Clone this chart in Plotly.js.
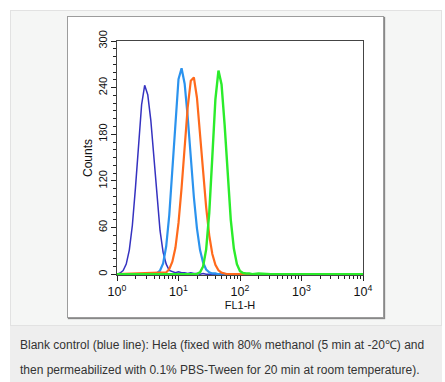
<!DOCTYPE html>
<html>
<head>
<meta charset="utf-8">
<script src="https://cdn.plot.ly/plotly-3.0.1.min.js"></script>
<style>
  html, body { margin:0; padding:0; width:445px; height:382px; overflow:hidden; background:#ffffff; }
  #panel { position:absolute; left:10px; top:10px; width:430px; height:314px; background:#f5f6f5; border:1px solid #e2e2e2; }
  #imgbox { position:absolute; left:67px; top:16px; width:315px; height:300px; background:#ffffff; border:1px solid #9c9c9c; box-shadow:1px 1px 1px #888; }
  #caption { position:absolute; left:10px; top:326px; width:432px; height:56px; background:#eeeeee; }
  #captext { position:absolute; left:20px; top:333px; font-family:"Liberation Sans", Arial, sans-serif; font-size:12px; line-height:25px; color:#333333; white-space:nowrap; }
  #chart { position:absolute; left:0; top:0; width:445px; height:382px; }
</style>
</head>
<body>
<div id="panel"></div>
<div id="imgbox"></div>
<div id="caption"></div>
<div id="captext">Blank control (blue line): Hela (fixed with 80% methanol (5 min at -20℃) and<br>then permeabilized with 0.1% PBS-Tween for 20 min at room temperature).</div>
<div id="chart"></div>
<script>
// Histogram bins, positions in decades of FL1-H (log10)
const blankDecades = [0.00, 0.05, 0.10, 0.15, 0.20, 0.25, 0.30, 0.35, 0.40, 0.45, 0.50, 0.55, 0.60, 0.65, 0.70, 0.75, 0.80, 0.85, 0.90, 0.95, 1.00, 1.05, 1.10, 1.15, 1.20, 1.25, 1.30, 1.35, 1.40, 1.45, 4.00];
const blankCounts  = [0, 1.5, 4.7, 13, 31, 63, 111, 168, 218, 243, 231, 198, 147, 97, 56, 28, 13, 5, 3, 2, 3, 2, 2, 1, 2, 1, 1, 0, 1, 0, 0];

const lightDecades = [0.00, 0.60, 0.65, 0.70, 0.75, 0.80, 0.85, 0.90, 0.95, 1.00, 1.05, 1.10, 1.15, 1.20, 1.25, 1.30, 1.35, 1.40, 1.45, 1.50, 1.55, 1.60, 1.65, 1.70, 1.75, 1.80, 4.00];
const lightCounts  = [0, 0.3, 1.4, 4.8, 14, 36, 76, 134, 200, 251, 265, 245, 202, 150, 99, 59, 31, 15, 6, 2.4, 1, 1, 0, 1, 0, 0, 0];

const orangeDecades = [0.00, 0.80, 0.85, 0.90, 0.95, 1.00, 1.05, 1.10, 1.15, 1.20, 1.25, 1.30, 1.35, 1.40, 1.45, 1.50, 1.55, 1.60, 1.65, 1.70, 1.75, 1.80, 4.00];
const orangeCounts  = [0, 2.3, 6.4, 16, 34, 66, 111, 164, 215, 249, 253, 227, 184, 133, 86, 50, 26, 12, 5, 2, 1, 0, 0];

const greenDecades = [0.00, 1.30, 1.35, 1.40, 1.45, 1.50, 1.55, 1.60, 1.65, 1.70, 1.75, 1.80, 1.85, 1.90, 1.95, 2.00, 2.05, 2.10, 2.15, 2.20, 2.30, 2.50, 4.00];
const greenCounts  = [0, 0.5, 2.5, 10, 32, 79, 151, 225, 262, 244, 192, 126, 70, 33, 13, 4, 1.5, 1, 1, 0, 1, 0, 0];

const xTickVals = [1, 10, 100, 1000, 10000];
const xTickText = ['10<sup>0</sup>', '10<sup>1</sup>', '10<sup>2</sup>', '10<sup>3</sup>', '10<sup>4</sup>'];
const yTickVals = [0, 60, 120, 180, 240, 300];
const yTickText = ['0', '60', '120', '180', '240', '300'];

const toFL = arr => arr.map(d => Math.pow(10, d));

const minorX = [];
for (let e = 0; e < 4; e++) for (let m = 2; m <= 9; m++) minorX.push(m * Math.pow(10, e));

function hist(dec, cnt, color, width) {
  return { type:'scatter', mode:'lines', x: toFL(dec), y: cnt,
           line:{ shape:'linear', color: color, width: width }, hoverinfo:'skip' };
}

const traces = [
  hist(blankDecades, blankCounts, '#3532c0', 1.5),
  hist(lightDecades, lightCounts, '#2b93ee', 2.2),
  hist(orangeDecades, orangeCounts, '#ff6a1c', 2.2),
  hist(greenDecades, greenCounts, '#2bec2b', 2.4)
];

const fontFam = '"Liberation Sans", Arial, sans-serif';
const layout = {
  width:445, height:382,
  margin:{ l:117, r:82, t:41, b:107, pad:0 },
  paper_bgcolor:'rgba(0,0,0,0)', plot_bgcolor:'#ffffff',
  showlegend:false,
  font:{ family: fontFam, color:'#1a1a1a' },
  xaxis:{
    type:'log', range:[0, 4], tickmode:'array', tickvals:xTickVals, ticktext:xTickText,
    ticks:'outside', ticklen:5, tickwidth:1, tickcolor:'#222',
    showline:true, linecolor:'#444', linewidth:1, mirror:true,
    showgrid:false, zeroline:false,
    tickfont:{ family: fontFam, size:12.5, color:'#111' },
    minor:{ tickmode:'array', tickvals:minorX, ticks:'outside', ticklen:3, tickcolor:'#222', showgrid:false },
    title:{ text:'FL1-H', font:{ family: fontFam, size:11, color:'#111' }, standoff:2 }
  },
  yaxis:{
    range:[-1, 300], tickmode:'array', tickvals:yTickVals, ticktext:yTickText, tickangle:-90,
    ticks:'outside', ticklen:5, tickwidth:1, tickcolor:'#222',
    showline:true, linecolor:'#444', linewidth:1, mirror:true,
    showgrid:false, zeroline:false,
    tickfont:{ family: fontFam, size:11, color:'#111' },
    minor:{ dtick:10, ticks:'outside', ticklen:3, tickcolor:'#222', showgrid:false },
    title:{ text:'Counts', font:{ family: fontFam, size:12, color:'#111' }, standoff:1 }
  }
};

Plotly.newPlot('chart', traces, layout, { staticPlot:true, displayModeBar:false });
</script>
</body>
</html>
